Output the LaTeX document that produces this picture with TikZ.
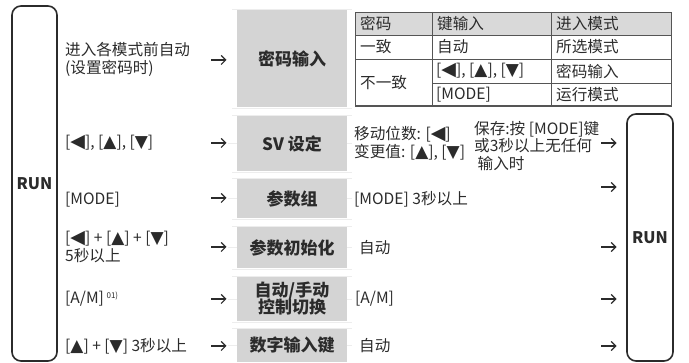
\documentclass[tikz,border=0pt]{standalone}
\usepackage{fontspec}
\usetikzlibrary{arrows.meta}
\setmainfont{Noto Sans CJK SC}
\newfontfamily\symf{DejaVu Sans}
\newcommand\keyL{{\symf\fontsize{19}{14}\selectfont ◀}}
\newcommand\keyU{{\symf\fontsize{17}{14}\selectfont ▲}}
\newcommand\keyD{{\symf\fontsize{17}{14}\selectfont ▼}}
\definecolor{boxgray}{HTML}{D4D4D4}
\definecolor{hdrgray}{HTML}{D9D9D9}
\definecolor{textc}{HTML}{2B2B2B}
\definecolor{tlinec}{HTML}{555555}
\definecolor{faintc}{HTML}{EDEDED}
\begin{document}
\begin{tikzpicture}[x=1pt,y=-1pt,
  txt/.style={anchor=west, inner sep=0pt, font=\fontsize{15.6}{18}\selectfont, text=textc, align=left},
  gbox/.style={fill=boxgray, minimum width=110pt, inner sep=0pt, font=\fontsize{17}{20}\selectfont\bfseries, text=textc, align=center},
  runbox/.style={draw=textc, line width=1.6pt, rounded corners=9pt, inner sep=0pt, text=textc, font=\fontsize{16}{18}\selectfont\bfseries},
  arr/.style={draw=textc, line width=1.2pt, -{Straight Barb[length=4.5pt,width=9pt,line width=1.2pt]}},
  tline/.style={draw=tlinec, line width=0.9pt},
  faint/.style={draw=faintc, line width=0.8pt}
]
\useasboundingbox (0,0) rectangle (689,363);

% faint separators
\foreach \yy in {9,108,115,172,178,219,226,269,276,322,328}
  \draw[faint] (232,\yy) -- (352,\yy);
\foreach \yy in {143.5,198.5,247.5,299,345.5}
  \draw[faint] (228,\yy) -- (352,\yy);

% RUN boxes
\node[runbox, minimum width=45pt, minimum height=355pt] (runL) at (34.5,183.5) {RUN};
\node[runbox, minimum width=46pt, minimum height=247pt] (runR) at (650,237.5) {RUN};

% gray boxes
\node[gbox, minimum height=97pt] (b1) at (292,58.5) {密码输入};
\node[gbox, minimum height=55pt] (b2) at (292,143.5) {SV 设定};
\node[gbox, minimum height=39pt] (b3) at (292,198.5) {参数组};
\node[gbox, minimum height=41pt] (b4) at (292,247.5) {参数初始化};
\node[gbox, minimum height=44pt] (b5) at (292,299) {自动/手动\\[-3pt]控制切换};
\node[gbox, minimum height=33pt] (b6) at (292,345.5) {数字输入键};

% left texts
\node[txt] (l1) at (65,59) {进入各模式前自动\\(设置密码时)};
\node[txt] (l2) at (65,143) {[\keyL], [\keyU], [\keyD]};
\node[txt] (l3) at (65,200) {[MODE]};
\node[txt] (l4) at (65,247) {[\keyL] + [\keyU] + [\keyD]\\5秒以上};
\node[txt] (l5) at (65,299) {[A/M]\,\raisebox{5pt}{\fontsize{8}{9}\selectfont 01)}};
\node[txt] (l6) at (65,346) {[\keyU] + [\keyD] 3秒以上};

% arrows (left column and right column)
\foreach \n/\xx/\yy in {a1/211/60, a2/211/143, a3/211/198, a4/211/247, a5/211/299, a6/211/346,
                        ra2/601/143, ra3/601/187, ra4/601/247, ra5/601/299, ra6/601/346} {
  \coordinate (\n s) at (\xx,\yy);
  \coordinate (\n e) at (\xx+15.5,\yy);
  \draw[arr] (\n s) -- (\n e);
}

% middle texts
\node[txt] (m2) at (354,143) {移动位数: [\keyL]\\变更值: [\keyU], [\keyD]};
\node[txt] (m3) at (354,199) {[MODE] 3秒以上};
\node[txt] (m4) at (359,248) {自动};
\node[txt] (m5) at (355,299) {[A/M]};
\node[txt] (m6) at (359,346) {自动};
\node[txt, font=\fontsize{15.6}{17.5}\selectfont] (r2) at (474,146) {保存:按 [MODE]键\\或3秒以上无任何\\\ 输入时};

% table
\fill[hdrgray] (355,12) rectangle (671,35);
\draw[tline] (355,12) rectangle (671,106);
\draw[tline] (355,35) -- (671,35);
\draw[tline] (355,59) -- (671,59);
\draw[tline] (432,83) -- (671,83);
\draw[tline] (432,12) -- (432,106);
\draw[tline] (551,12) -- (551,106);
\draw[draw=tlinec, line width=1.3pt] (355,106) -- (671,106);

\node[txt] (t11) at (360,23.5) {密码};
\node[txt] (t12) at (437,23.5) {键输入};
\node[txt] (t13) at (556,23.5) {进入模式};
\node[txt] (t21) at (360,47) {一致};
\node[txt] (t22) at (437,47) {自动};
\node[txt] (t23) at (556,47) {所选模式};
\node[txt] (t31) at (360,82.5) {不一致};
\node[txt] (t32) at (436,71) {[\keyL], [\keyU], [\keyD]};
\node[txt] (t33) at (556,71) {密码输入};
\node[txt] (t42) at (436,94.5) {[MODE]};
\node[txt] (t43) at (556,94.5) {运行模式};
\end{tikzpicture}
\end{document}
